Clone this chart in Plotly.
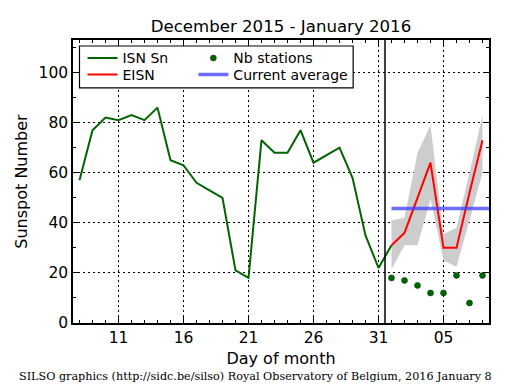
import plotly.graph_objects as go

# ---- data ----
days_isn = list(range(8, 33))
isn_sn = [57, 77, 82, 81, 83, 81, 86, 65, 63, 56, 53, 50, 21, 18, 73, 68, 68,
          77, 64, 67, 70, 58, 35, 22, 31]
days_est = list(range(32, 40))
eisn = [31, 36, 50, 64, 30, 30, 52, 73]
eisn_upper = [41, 42, 68, 79, 35.5, 38, 60, 83]
eisn_lower = [21.5, 31, 31, 49.5, 25, 22.5, 41, 60]
nb_stations = [18, 17, 15, 12, 12, 19, 8, 19]
avg_days = [32, 39.5]
avg_values = [45.7, 45.7]
month_boundary = 31.5
x_tick_vals = [11, 16, 21, 26, 31, 36]
x_tick_text = ["11", "16", "21", "26", "31", "05"]
y_tick_vals = [0, 20, 40, 60, 80, 100]

# the page body has an 8px margin: work in reference pixels and shift
OFF = 8
W, H = 515 - 2 * OFF, 390 - 2 * OFF
PL, PR, PT, PB = 72.5, 489, 40, 323.5      # plot box in reference pixels
L, R, T, B = PL - OFF, W - (PR - OFF), PT - OFF, H - (PB - OFF)
PW, PH = PR - PL, PB - PT


def px_x(px):
    return (px - PL) / PW


def px_y(py):
    return (PB - py) / PH


FONT = "DejaVu Sans, sans-serif"
GREEN = "#006400"

fig = go.Figure()

# grey uncertainty band
fig.add_trace(go.Scatter(x=days_est, y=eisn_upper, mode="lines",
                         line=dict(width=0, color="rgba(0,0,0,0)"),
                         showlegend=False, hoverinfo="skip"))
fig.add_trace(go.Scatter(x=days_est, y=eisn_lower, mode="lines",
                         line=dict(width=0, color="rgba(0,0,0,0)"),
                         fill="tonexty", fillcolor="#cdcdcd",
                         showlegend=False, hoverinfo="skip"))

fig.add_trace(go.Scatter(x=days_isn, y=isn_sn, mode="lines", name="ISN Sn",
                         line=dict(color=GREEN, width=2), legend="legend"))
fig.add_trace(go.Scatter(x=days_est, y=eisn, mode="lines", name="EISN",
                         line=dict(color="#ff0000", width=2), legend="legend2"))
fig.add_trace(go.Scatter(x=days_est, y=nb_stations, mode="markers",
                         name="Nb stations",
                         marker=dict(color=GREEN, size=6,
                                     line=dict(color="#003300", width=0.5)),
                         legend="legend3"))
fig.add_trace(go.Scatter(x=avg_days, y=avg_values, mode="lines",
                         name="Current average",
                         line=dict(color="rgba(60,60,255,0.75)", width=3.5),
                         legend="legend4"))

# month boundary
fig.add_shape(type="line", xref="x", yref="paper", x0=month_boundary,
              x1=month_boundary, y0=0, y1=1,
              line=dict(color="black", width=1.5))

# legend frame
fig.add_shape(type="rect", xref="paper", yref="paper",
              x0=px_x(79), x1=px_x(353), y0=px_y(88), y1=px_y(46),
              line=dict(color="black", width=1.2), fillcolor="white",
              layer="above")

axis_common = dict(
    showline=True, linecolor="black", linewidth=1.5, mirror="allticks",
    ticks="inside", ticklen=6, tickwidth=1, tickcolor="black",
    showgrid=True, gridcolor="black", griddash="2px,3px", gridwidth=1,
    zeroline=False, tickfont=dict(family=FONT, size=15.5, color="black"),
)

legend_common = dict(xanchor="left", yanchor="top", traceorder="normal",
                     bgcolor="rgba(0,0,0,0)", borderwidth=0,
                     font=dict(family=FONT, size=14, color="black"),
                     tracegroupgap=0, itemwidth=30)
ROW1, ROW2 = 57.7 - 15.3, 74.3 - 15.3
COL1, COL2 = 82, 193

fig.update_layout(
    width=W, height=H,
    margin=dict(l=L, r=R, t=T, b=B, autoexpand=False),
    paper_bgcolor="white", plot_bgcolor="white",
    font=dict(family=FONT, color="black"),
    title=dict(text="December 2015 - January 2016",
               font=dict(family=FONT, size=16.6, color="black"),
               x=px_x((PL + PR) / 2), xref="paper", xanchor="center",
               y=1 - (26.5 - OFF) / H, yref="container", yanchor="middle"),
    xaxis=dict(range=[7.5, 39.5], tickmode="array", tickvals=x_tick_vals,
               ticktext=x_tick_text,
               minor=dict(dtick=1, tick0=0, ticks="inside", ticklen=3,
                          tickcolor="black", showgrid=False),
               title=dict(text="Day of month", standoff=6,
                          font=dict(family=FONT, size=16, color="black")),
               **axis_common),
    yaxis=dict(range=[0, 113], tickmode="array", tickvals=y_tick_vals,
               minor=dict(dtick=10, tick0=0, ticks="inside", ticklen=3,
                          tickcolor="black", showgrid=False),
               title=dict(text="Sunspot Number", standoff=7,
                          font=dict(family=FONT, size=16, color="black")),
               **axis_common),
    legend=dict(x=px_x(COL1), y=px_y(ROW1), **legend_common),
    legend2=dict(x=px_x(COL1), y=px_y(ROW2), **legend_common),
    legend3=dict(x=px_x(COL2), y=px_y(ROW1), **legend_common),
    legend4=dict(x=px_x(COL2), y=px_y(ROW2), **legend_common),
    annotations=[dict(
        text="SILSO graphics (http://sidc.be/silso) Royal Observatory of Belgium, 2016 January 8",
        xref="paper", yref="paper", x=px_x(255), y=px_y(377),
        xanchor="center", yanchor="middle", showarrow=False,
        font=dict(family="DejaVu Serif, serif", size=11.2, color="black"))],
)

fig.write_html("out.html")
